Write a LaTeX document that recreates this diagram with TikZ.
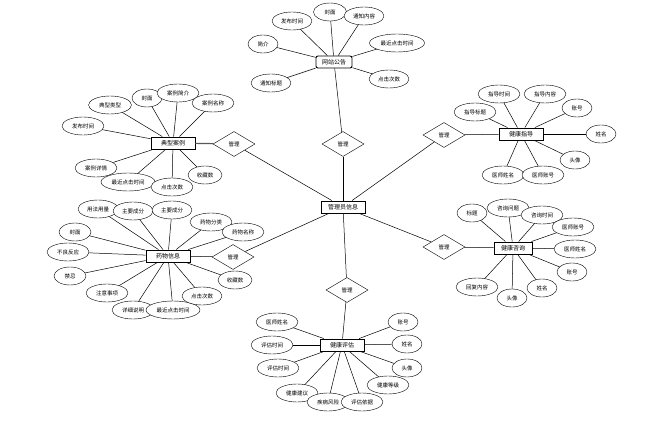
\documentclass[tikz,border=0pt]{standalone}
\usepackage{fontspec}
\setmainfont{Noto Sans CJK SC}
\usetikzlibrary{shapes.geometric}
\tikzset{
  entity/.style={draw, line width=0.9pt, fill=white, minimum width=44, minimum height=12, inner sep=1pt, font=\fontsize{6}{7}\selectfont},
  attr/.style={draw, ellipse, fill=white, minimum height=18, inner sep=0pt, font=\fontsize{5.5}{6}\selectfont},
  rel/.style={draw, diamond, aspect=1.7, minimum width=42, minimum height=25, inner sep=0pt, fill=white, font=\fontsize{5.5}{6}\selectfont},
  link/.style={line width=0.5pt}
}
\begin{document}
\begin{tikzpicture}[x=1pt, y=-1pt]
    \useasboundingbox (0,0) rectangle (651,422);

    % centre entity and its relations
    \node[entity] (admin) at (343,207) {管理员信息};
    \node[rel] (rtop) at (343,144) {管理};
    \node[rel] (rlu) at (234,144) {管理};
    \node[rel] (rld) at (233,257) {管理};
    \node[rel] (rru) at (444,135) {管理};
    \node[rel] (rrd) at (444,247) {管理};
    \node[rel] (rbot) at (347,290) {管理};
    \foreach \r in {rtop,rlu,rld,rru,rrd,rbot}
        \draw[link] (admin) -- (\r);

    % website notice
    \node[entity, rounded corners=2pt, minimum width=36] (notice) at (334,62) {网站公告};
    \draw[link] (notice) -- (rtop);
    \foreach \n/\x/\y/\w/\t in {a/330/12/33/封面, b/292/21/40/发布时间, c/364/16/40/通知内容,
        d/263/44/30/简介, e/397/43/55/最近点击时间, f/389/79/40/点击次数, g/271/83/40/通知标题} {
        \draw[link] (notice) -- (\x,\y);
        \node[attr, minimum width=\w] (notice\n) at (\x,\y) {\t};
    }

    % typical cases
    \node[entity] (cases) at (173,143) {典型案例};
    \draw[line width=1.2pt, gray!70!black] (cases) -- (rlu);
    \foreach \n/\x/\y/\w/\t in {a/110/105/43/典型类型, b/147/98/30/封面, c/178/93/42/案例简介,
        d/213/103/42/案例名称, e/83/126/42/发布时间, f/96/168/42/案例详情,
        g/128/182/54/最近点击时间, h/172/187/42/点击次数, i/205/175/34/收藏数} {
        \draw[link] (cases) -- (\x,\y);
        \node[attr, minimum width=\w] (cases\n) at (\x,\y) {\t};
    }

    % drugs
    \node[entity] (drug) at (168,256) {药物信息};
    \draw[link] (drug) -- (rld);
    \foreach \n/\x/\y/\w/\t in {a/98/209/40/用法用量, b/133/211/40/主要成分, c/172/210/40/主要成分,
        d/211/222/42/药物分类, e/243/232/42/药物名称, f/75/232/32/封面, g/68/252/42/不良反应,
        h/70/276/32/禁忌, i/107/293/42/注意事项, j/133/310/42/详细说明,
        k/173/310/54/最近点击时间, l/202/296/40/点击次数, m/235/280/34/收藏数} {
        \draw[link] (drug) -- (\x,\y);
        \node[attr, minimum width=\w] (drug\n) at (\x,\y) {\t};
    }

    % health guidance
    \node[entity] (guide) at (521,134) {健康指导};
    \draw[link] (guide) -- (rru);
    \foreach \n/\x/\y/\w/\t in {a/475/112/42/指导标题, b/499/94/42/指导时间, c/545/94/42/指导内容,
        d/577/108/30/账号, e/601/134/30/姓名, f/575/160/30/头像,
        g/503/175/42/医师姓名, h/543/175/42/医师账号} {
        \draw[link] (guide) -- (\x,\y);
        \node[attr, minimum width=\w] (guide\n) at (\x,\y) {\t};
    }

    % health consultation
    \node[entity, minimum width=38] (consult) at (513,248) {健康咨询};
    \draw[link] (consult) -- (rrd);
    \foreach \n/\x/\y/\w/\t in {a/472/213/30/标题, b/508/208/42/咨询问题, c/542/215/42/咨询时间,
        d/573/227/42/医师账号, e/575/249/42/医师姓名, f/572/272/30/账号,
        g/542/288/30/姓名, h/512/298/30/头像, i/477/287/42/回复内容} {
        \draw[link] (consult) -- (\x,\y);
        \node[attr, minimum width=\w] (consult\n) at (\x,\y) {\t};
    }

    % health assessment
    \node[entity] (assess) at (342,345) {健康评估};
    \draw[link] (assess) -- (rbot);
    \foreach \n/\x/\y/\w/\t in {a/277/322/42/医师姓名, b/272/345/42/评估时间, c/278/368/42/评估时间,
        d/297/393/42/健康建议, e/328/402/42/疾病风险, f/362/402/42/评估依据,
        g/388/385/42/健康等级, h/407/368/30/头像, i/407/344/30/姓名, j/403/322/30/账号} {
        \draw[link] (assess) -- (\x,\y);
        \node[attr, minimum width=\w] (assess\n) at (\x,\y) {\t};
    }
\end{tikzpicture}
\end{document}
